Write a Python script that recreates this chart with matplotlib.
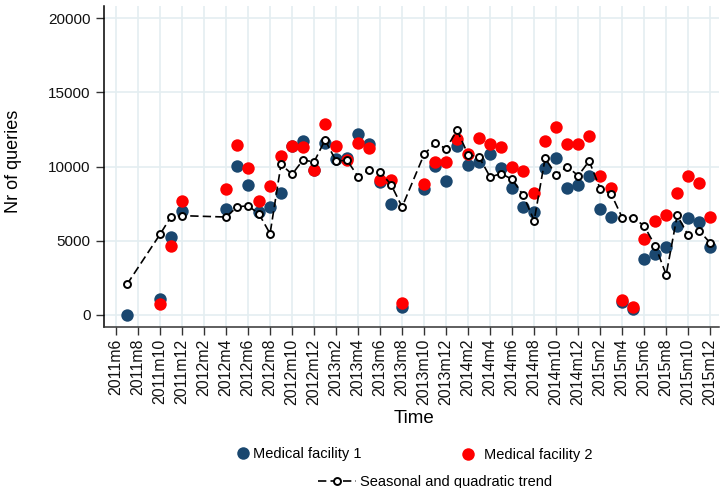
import numpy as np
import matplotlib
matplotlib.use("Agg")
import matplotlib.pyplot as plt
from matplotlib.lines import Line2D

plt.rcParams['font.family'] = ['Liberation Sans', 'DejaVu Sans']

months = ["2011m7", "2011m10", "2011m11", "2011m12",
          "2012m4", "2012m5", "2012m6", "2012m7", "2012m8", "2012m9", "2012m10", "2012m11", "2012m12",
          "2013m1", "2013m2", "2013m3", "2013m4", "2013m5", "2013m6", "2013m7", "2013m8",
          "2013m10", "2013m11", "2013m12",
          "2014m1", "2014m2", "2014m3", "2014m4", "2014m5", "2014m6", "2014m7", "2014m8",
          "2014m9", "2014m10", "2014m11", "2014m12",
          "2015m1", "2015m2", "2015m3", "2015m4", "2015m5", "2015m6", "2015m7", "2015m8",
          "2015m9", "2015m10", "2015m11", "2015m12"]

facility1 = [0, 1035, 5220, 6975,
             7155, 10010, 8750, 6930, 7245, 8235, 11410, 11720, 9750,
             11610, 10480, 10550, 12195, 11520, 8985, 7470, 540,
             8460, 10060, 9020,
             11410, 10100, 10290, 10830, 9880, 8535, 7250, 6910,
             9880, 10540, 8560, 8740,
             9390, 7140, 6620, 880, 380, 3735, 4095, 4545,
             6010, 6500, 6280, 4590]

facility2 = [np.nan, 698, 4635, 7670,
             8480, 11430, 9920, 7670, 8710, 10710, 11410, 11320, 9765,
             12870, 11400, 10415, 11570, 11230, 9095, 9095, 765,
             8850, 10290, 10290,
             11880, 10850, 11950, 11520, 11340, 9950, 9700, 8195,
             11730, 12680, 11520, 11520,
             12070, 9370, 8580, 990, 540, 5130, 6345, 6730,
             8240, 9370, 8920, 6620]

trend = [2048, 5420, 6615, 6683,
         6590, 7268, 7358, 6795, 5468, 10148, 9473, 10440, 10305,
         11790, 10370, 10415, 9320, 9770, 9635, 8775, 7270,
         10820, 11570, 11210,
         12440, 10800, 10640, 9290, 9520, 9135, 8075, 6345,
         10560, 9430, 10000, 9380,
         10370, 8500, 8150, 6550, 6550, 5985, 4660, 2700,
         6705, 5355, 5670, 4840]

tick_labels = ["2011m6", "2011m8", "2011m10", "2011m12",
               "2012m2", "2012m4", "2012m6", "2012m8", "2012m10", "2012m12",
               "2013m2", "2013m4", "2013m6", "2013m8", "2013m10", "2013m12",
               "2014m2", "2014m4", "2014m6", "2014m8", "2014m10", "2014m12",
               "2015m2", "2015m4", "2015m6", "2015m8", "2015m10", "2015m12"]


def month_index(s):
    # months since 2011m6
    y, m = s.split("m")
    return (int(y) - 2011) * 12 + int(m) - 6


t = np.array([month_index(s) for s in months])
ticks = [month_index(s) for s in tick_labels]

blue = '#1a476f'
red = '#ff0000'
grid_col = '#e4eef1'

fig = plt.figure(figsize=(7.2, 4.88), dpi=100)
ax = fig.add_axes([104 / 720, 1 - 327 / 488, 615 / 720, 321 / 488])

ax.scatter(t, facility1, s=80, color=blue, zorder=3, linewidths=0)
ax.scatter(t, facility2, s=80, color=red, zorder=4, linewidths=0)
ax.plot(t, trend, color='black', lw=1.2, dashes=(5, 2.5),
        marker='o', markersize=5, markerfacecolor='white',
        markeredgecolor='black', markeredgewidth=1.4, zorder=5)

ax.set_xlim(-1.09, 54.8)
ax.set_ylim(-830, 20830)
ax.set_xticks(ticks)
ax.set_xticklabels(tick_labels, rotation=90, fontsize=11.5)
ax.set_yticks([0, 5000, 10000, 15000, 20000])
ax.set_yticklabels(["0", "5000", "10000", "15000", "20000"], fontsize=11)
ax.tick_params(axis='both', length=6, width=1, color='#333333', labelcolor='#111111')
ax.tick_params(axis='y', pad=3.6)
ax.tick_params(axis='x', pad=2.2)

ax.grid(True, color=grid_col, lw=1.2, zorder=0)
ax.set_axisbelow(True)
for side in ['top', 'right']:
    ax.spines[side].set_visible(False)
ax.spines['left'].set_color('black')
ax.spines['left'].set_linewidth(1.1)
ax.spines['bottom'].set_color('#333333')
ax.spines['bottom'].set_linewidth(1.1)

ax.set_ylabel("Nr of queries", fontsize=13)
ax.yaxis.set_label_coords(-0.133, 0.517)
ax.set_xlabel("Time", fontsize=13.5)
ax.xaxis.set_label_coords(0.504, -0.26)

h1 = Line2D([], [], marker='o', ls='none', markersize=9, color=blue, markeredgewidth=0)
h2 = Line2D([], [], marker='o', ls='none', markersize=9, color=red, markeredgewidth=0)
h3 = Line2D([], [], color='black', lw=1.2, dashes=(5, 2.5), marker='o', markersize=5,
            markerfacecolor='white', markeredgecolor='black', markeredgewidth=1.4)

common = dict(loc='center left', frameon=False, borderpad=0, borderaxespad=0,
              fontsize=10.5, numpoints=1)
leg1 = fig.legend([h1], ["Medical facility 1"], bbox_to_anchor=(235.7 / 720, 1 - 454 / 488),
                  handlelength=1.0, handletextpad=0.18, **common)
leg2 = fig.legend([h2], ["Medical facility 2"], bbox_to_anchor=(460.7 / 720, 1 - 455 / 488),
                  handlelength=1.0, handletextpad=0.6, **common)
leg3 = fig.legend([h3], ["Seasonal and quadratic trend"], bbox_to_anchor=(318 / 720, 1 - 482 / 488),
                  handlelength=2.6, handletextpad=0.27, **common)

fig.savefig("out.png", dpi=100)
